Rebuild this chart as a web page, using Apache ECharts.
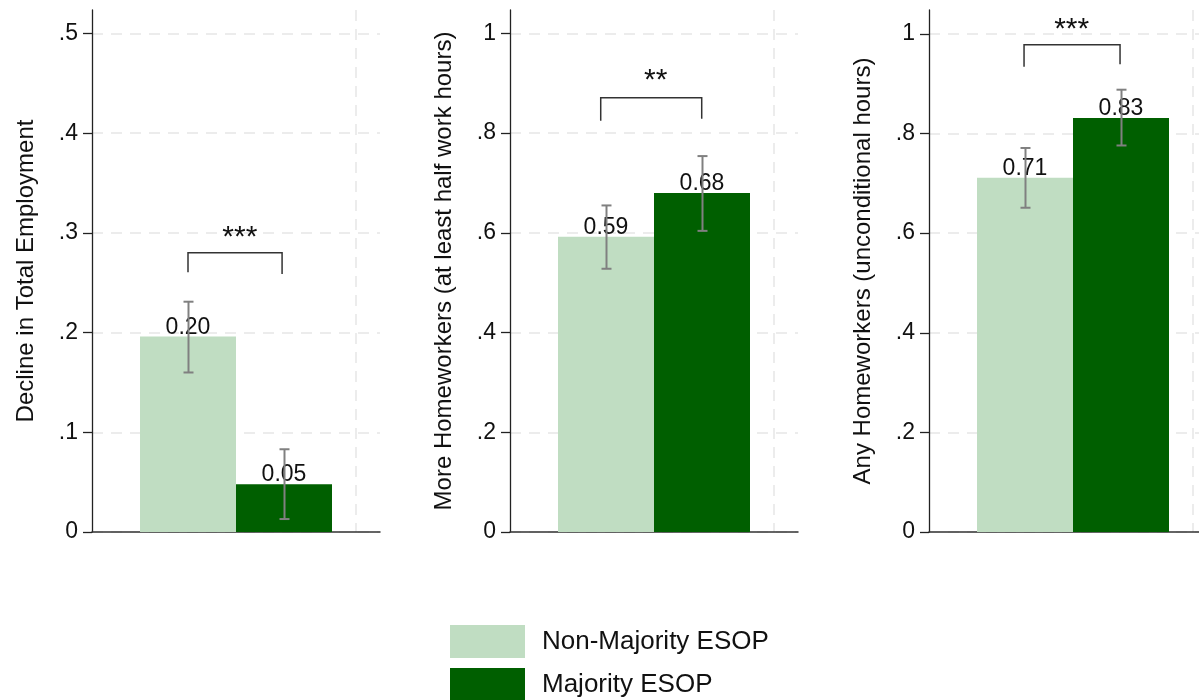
<!DOCTYPE html>
<html>
<head>
<meta charset="utf-8">
<script src="https://cdn.jsdelivr.net/npm/echarts@6/dist/echarts.min.js"></script>
<style>
  html, body { margin: 0; padding: 0; background: #fff; }
  #chart { width: 1199px; height: 700px; }
</style>
</head>
<body>
<div id="chart"></div>
<script>
// panel titles (y axis names)
const panelTitles = [
  "Decline in Total Employment",
  "More Homeworkers (at least half work hours)",
  "Any Homeworkers (unconditional hours)",
];
const groups = ["Non-Majority ESOP", "Majority ESOP"];
const groupX = [1, 2];

// bar heights per panel
const nonMajority = [0.196, 0.592, 0.711];
const majority = [0.048, 0.68, 0.831];
// confidence intervals
const nonLow = [0.16, 0.528, 0.651];
const nonHigh = [0.231, 0.655, 0.771];
const majLow = [0.013, 0.604, 0.776];
const majHigh = [0.083, 0.754, 0.888];

// y axis ticks
const tickValues = [
  [0, 0.1, 0.2, 0.3, 0.4, 0.5],
  [0, 0.2, 0.4, 0.6, 0.8, 1],
  [0, 0.2, 0.4, 0.6, 0.8, 1],
];
const tickLabels = [
  ["0", ".1", ".2", ".3", ".4", ".5"],
  ["0", ".2", ".4", ".6", ".8", "1"],
  ["0", ".2", ".4", ".6", ".8", "1"],
];
const yMax = [0.5236, 1.047, 1.048];
const yStep = [0.1, 0.2, 0.2];

// significance brackets: [xLeft, xRight, yTop, yLeftEnd, yRightEnd]
const brackets = [
  [1.0, 1.98, 0.28, 0.2605, 0.2588],
  [0.945, 1.997, 0.871, 0.825, 0.829],
  [0.99, 1.99, 0.978, 0.934, 0.939],
];
const stars = ["***", "**", "***"];
const starX = [1.54, 1.518, 1.486];
const starY = [0.301, 0.917, 1.021];

const FONT = "'Liberation Sans', Arial, Helvetica, sans-serif";
const lightGreen = "#c0ddc2";
const darkGreen = "#005f00";
const gridLeft = [92, 510, 929];

let chart = echarts.init(document.getElementById("chart"));

function renderBar(params, api) {
  const x = api.value(0);
  const v = api.value(1);
  const lo = api.value(2);
  const hi = api.value(3);
  const p0 = api.coord([x - 0.5, 0]);
  const p1 = api.coord([x + 0.5, v]);
  const cx = (p0[0] + p1[0]) / 2 + 0.5;
  const yLo = api.coord([x, lo])[1];
  const yHi = api.coord([x, hi])[1];
  const es = { stroke: "#808080", lineWidth: 2 };
  return {
    type: "group",
    children: [
      {
        type: "rect",
        shape: { x: p0[0], y: p1[1], width: p1[0] - p0[0], height: p0[1] - p1[1] },
        style: { fill: api.visual("color") },
      },
      {
        type: "text",
        style: {
          x: (p0[0] + p1[0]) / 2,
          y: p1[1] - 9,
          text: v.toFixed(2),
          font: "23px " + FONT,
          fill: "#111",
          align: "center",
          verticalAlign: "middle",
        },
      },
      { type: "line", shape: { x1: cx, y1: yLo, x2: cx, y2: yHi }, style: es },
      { type: "line", shape: { x1: cx - 5, y1: yLo, x2: cx + 5, y2: yLo }, style: es },
      { type: "line", shape: { x1: cx - 5, y1: yHi, x2: cx + 5, y2: yHi }, style: es },
    ],
  };
}

function renderBracket(params, api) {
  const b = brackets[params.dataIndex];
  const a = api.coord([b[0], b[3]]);
  const c = api.coord([b[0], b[2]]);
  const d = api.coord([b[1], b[2]]);
  const e = api.coord([b[1], b[4]]);
  const s = api.coord([starX[params.dataIndex], starY[params.dataIndex]]);
  return {
    type: "group",
    children: [
      {
        type: "polyline",
        shape: { points: [a, c, d, e] },
        style: { stroke: "#333", lineWidth: 1.5, fill: null },
      },
      {
        type: "text",
        style: {
          x: s[0],
          y: s[1] + 6,
          text: stars[params.dataIndex],
          font: "30px " + FONT,
          fill: "#111",
          align: "center",
          verticalAlign: "middle",
        },
      },
    ],
  };
}

let grids = [];
let xAxes = [];
let yAxes = [];
let series = [];

for (let p = 0; p < 3; p++) {
  grids.push({ left: gridLeft[p], top: 10, width: 288, height: 522, outerBoundsMode: "none" });
  xAxes.push({
    type: "value",
    gridIndex: p,
    min: 0,
    max: 3,
    axisLine: { show: true, onZero: false, lineStyle: { color: "#333", width: 1.5 } },
    axisTick: { show: false, customValues: [2.75] },
    axisLabel: { show: false, customValues: [2.75] },
    splitLine: { show: true, lineStyle: { color: "#ececec", width: 2, type: [11, 8] } },
  });
  yAxes.push({
    type: "value",
    gridIndex: p,
    min: 0,
    max: yMax[p],
    interval: yStep[p],
    name: panelTitles[p],
    nameLocation: "middle",
    nameGap: 54,
    nameTextStyle: { fontSize: 24, color: "#111", fontFamily: FONT },
    axisLine: { show: true, lineStyle: { color: "#222", width: 1.3 } },
    axisTick: { show: true, length: 9, customValues: tickValues[p], lineStyle: { color: "#222", width: 1.3 } },
    axisLabel: {
      customValues: tickValues[p],
      fontSize: 23,
      color: "#111",
      margin: 14,
      fontFamily: FONT,
      formatter: (v) => {
        const i = tickValues[p].findIndex((t) => Math.abs(t - v) < 1e-6);
        return i >= 0 ? tickLabels[p][i] : "";
      },
    },
    splitLine: { show: true, lineStyle: { color: "#ececec", width: 2, type: [11, 8] } },
  });
  series.push({
    type: "custom",
    name: groups[0],
    xAxisIndex: p,
    yAxisIndex: p,
    itemStyle: { color: lightGreen },
    renderItem: renderBar,
    data: [[groupX[0], nonMajority[p], nonLow[p], nonHigh[p]]],
  });
  series.push({
    type: "custom",
    name: groups[1],
    xAxisIndex: p,
    yAxisIndex: p,
    itemStyle: { color: darkGreen },
    renderItem: renderBar,
    data: [[groupX[1], majority[p], majLow[p], majHigh[p]]],
  });
  series.push({
    type: "custom",
    xAxisIndex: p,
    yAxisIndex: p,
    renderItem: (params, api) => renderBracket({ dataIndex: p }, api),
    data: [[1.5, brackets[p][2]]],
    z: 5,
  });
}

chart.setOption({
  animation: false,
  backgroundColor: "#fff",
  textStyle: { fontFamily: FONT },
  legend: {
    data: groups,
    orient: "vertical",
    left: 450,
    top: 625,
    width: 400,
    height: 120,
    padding: 0,
    icon: "rect",
    itemWidth: 75,
    itemHeight: 33,
    itemGap: 10,
    textStyle: { fontSize: 26, color: "#111", fontFamily: FONT, padding: [0, 0, 0, 12] },
  },
  grid: grids,
  xAxis: xAxes,
  yAxis: yAxes,
  series: series,
});
</script>
</body>
</html>
